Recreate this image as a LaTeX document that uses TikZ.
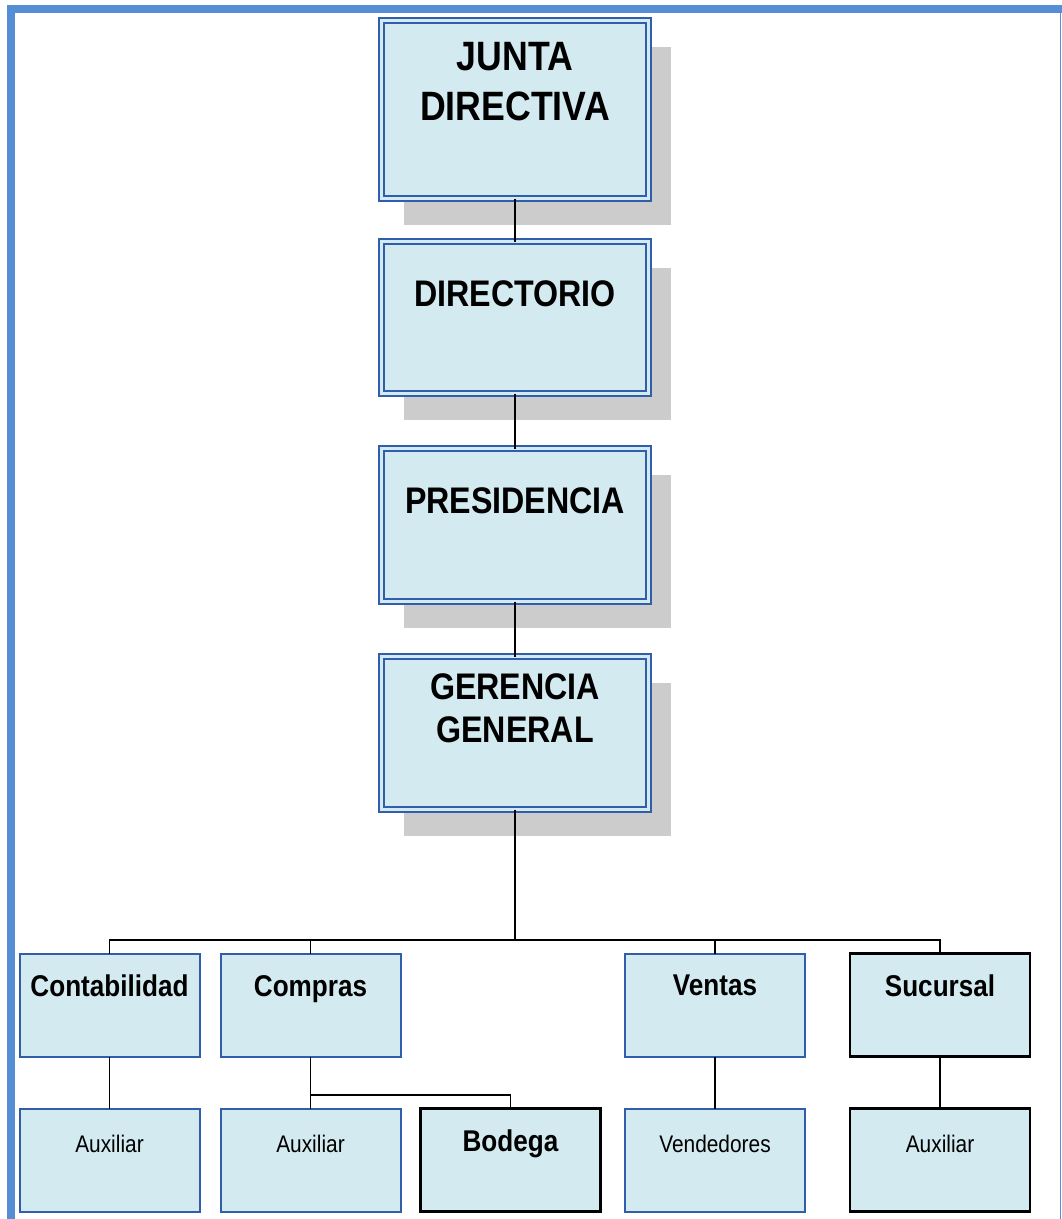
\documentclass[tikz,border=0pt]{standalone}
\usepackage{fontspec}
\setmainfont{Liberation Sans}[FakeStretch=0.87]
\usepackage{xcolor}
\usetikzlibrary{positioning,shadows}

\definecolor{boxfill}{RGB}{210,234,240}
\definecolor{boxblue}{RGB}{49,94,170}
\definecolor{pageblue}{RGB}{85,142,213}
\definecolor{shadowgray}{RGB}{204,204,204}

\begin{document}
\begin{tikzpicture}[x=1pt,y=-1pt,
    topbox/.style={draw=boxblue,line width=2pt,double=boxfill,double distance=2.4pt,fill=boxfill,outer sep=0pt,inner sep=0pt,minimum width=267pt,
      drop shadow={shadow xshift=22pt,shadow yshift=-26pt,fill=shadowgray,opacity=1}},
    unit/.style={draw=boxblue,line width=2pt,fill=boxfill,outer sep=0pt,inner sep=0pt,minimum width=180pt,minimum height=103pt},
    unitk/.style={unit,draw=black,line width=2.6pt},
    toptxt/.style={inner sep=0pt,align=center,font=\bfseries\fontsize{37}{43}\selectfont},
    headtxt/.style={inner sep=0pt,font=\bfseries\fontsize{30}{36}\selectfont},
    subtxt/.style={inner sep=0pt,font=\fontsize{24}{29}\selectfont},
    link/.style={line width=1.6pt}]
  \useasboundingbox (0,0) rectangle (1062,1219);
  % page border
  \fill[pageblue] (7,5) rectangle (1062,13);
  \fill[pageblue] (7,5) rectangle (15,1219);
  \draw[pageblue,line width=1.5pt] (1060.5,5) -- (1060.5,1219);

  % upper levels
  \node[topbox,minimum height=178pt,anchor=north] (junta) at (515,20.5) {};
  \node[topbox,minimum height=152pt,below=43pt of junta] (directorio) {};
  \node[topbox,minimum height=153pt,below=55pt of directorio] (presidencia) {};
  \node[topbox,minimum height=153pt,below=55pt of presidencia] (gerencia) {};
  \node[toptxt,font=\bfseries\fontsize{41}{50}\selectfont,below=22pt of junta.north] (juntatxt) {JUNTA\\DIRECTIVA};
  \node[toptxt,below=39pt of directorio.north] (directoriotxt) {DIRECTORIO};
  \node[toptxt,below=39pt of presidencia.north] (presidenciatxt) {PRESIDENCIA};
  \node[toptxt,below=16.5pt of gerencia.north] (gerenciatxt) {GERENCIA\\GENERAL};

  % departments
  \node[unit] (conta) at (109.5,1005) {};
  \node[unit,right=21pt of conta] (compras) {};
  \node[unit,right=224.5pt of compras] (ventas) {};
  \node[unitk,right=45pt of ventas] (sucursal) {};
  \node[unit,below=52pt of conta] (auxconta) {};
  \node[unit,below=52pt of compras] (auxcompras) {};
  \node[unitk,right=20pt of auxcompras] (bodega) {};
  \node[unit,below=52pt of ventas] (vendedores) {};
  \node[unitk,below=52pt of sucursal] (auxsucursal) {};
  \node[headtxt,below=21.5pt of conta.north] (contatxt) {Contabilidad};
  \node[headtxt,below=21.5pt of compras.north] (comprastxt) {Compras};
  \node[headtxt,below=21.5pt of ventas.north] (ventastxt) {Ventas};
  \node[headtxt,below=21.5pt of sucursal.north] (sucursaltxt) {Sucursal};
  \node[subtxt,below=26.5pt of auxconta.north] (auxcontatxt) {Auxiliar};
  \node[subtxt,below=26.5pt of auxcompras.north] (auxcomprastxt) {Auxiliar};
  \node[headtxt,below=21.5pt of bodega.north] (bodegatxt) {Bodega};
  \node[subtxt,below=26.5pt of vendedores.north] (vendedorestxt) {Vendedores};
  \node[subtxt,below=26.5pt of auxsucursal.north] (auxsucursaltxt) {Auxiliar};

  % connectors
  \coordinate (bus) at (515,940);
  \coordinate (cbus) at (310.5,1095);
  \draw[link] (junta) -- (directorio);
  \draw[link] (directorio) -- (presidencia);
  \draw[link] (presidencia) -- (gerencia);
  \draw[link] (gerencia) -- (bus);
  \draw[link] (bus) -| (conta);
  \draw[link] (bus) -| (compras);
  \draw[link] (bus) -| (ventas);
  \draw[link] (bus) -| (sucursal);
  \draw[link] (conta) -- (auxconta);
  \draw[link] (compras) -- (auxcompras);
  \draw[link] (cbus) -| (bodega);
  \draw[link] (ventas) -- (vendedores);
  \draw[link] (sucursal) -- (auxsucursal);
\end{tikzpicture}
\end{document}
